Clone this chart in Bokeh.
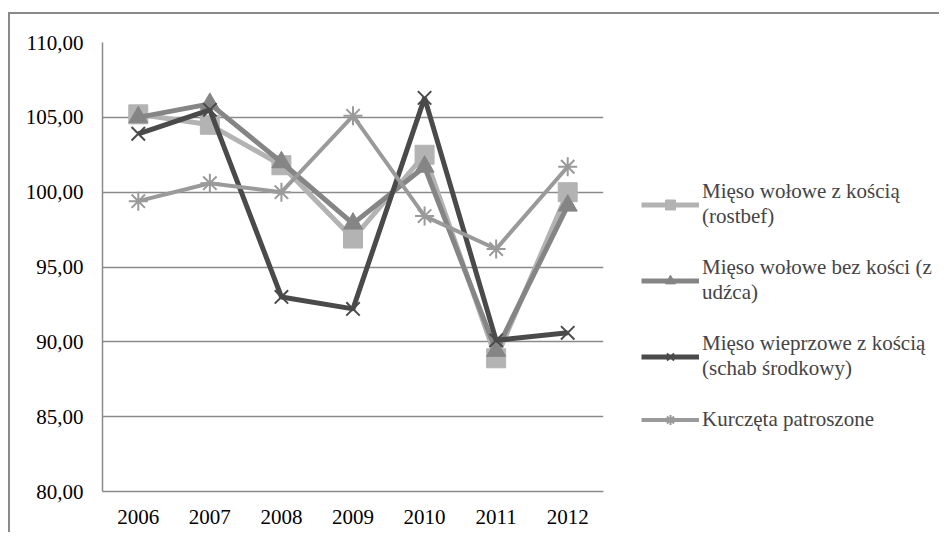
from bokeh.plotting import figure
from bokeh.layouts import row
from bokeh.models import FactorRange, Range1d, Legend, LegendItem, CustomJSTickFormatter, FixedTicker
from bokeh.embed import file_html
from bokeh.resources import INLINE

years = ["2006", "2007", "2008", "2009", "2010", "2011", "2012"]
rostbef = [105.2, 104.5, 101.8, 96.9, 102.5, 88.9, 100.0]
udzca = [105.0, 105.9, 102.0, 97.9, 101.7, 89.4, 99.1]
schab = [103.9, 105.5, 93.0, 92.2, 106.3, 90.1, 90.6]
kurczeta = [99.4, 100.6, 100.0, 105.1, 98.4, 96.2, 101.7]

labels = [
    "Mięso wołowe z kością\n(rostbef)",
    "Mięso wołowe bez kości (z\nudźca)",
    "Mięso wieprzowe z kością\n(schab środkowy)",
    "Kurczęta patroszone",
]

FONT = "Liberation Serif"

p = figure(x_range=FactorRange(*years, range_padding=0), y_range=Range1d(80, 110),
           width=595, height=518, output_backend="svg", toolbar_location=None,
           min_border_left=92, min_border_top=28, min_border_right=2, min_border_bottom=41)

p.outline_line_color = None
p.xgrid.grid_line_color = None
p.ygrid.grid_line_color = "#8a8a8a"
p.ygrid.grid_line_width = 1.5

p.yaxis.ticker = FixedTicker(ticks=[80, 85, 90, 95, 100, 105, 110])
p.yaxis.formatter = CustomJSTickFormatter(code="return tick.toFixed(2).replace('.', ',');")
for ax in (p.xaxis[0], p.yaxis[0]):
    ax.axis_line_color = "#8a8a8a"
    ax.axis_line_width = 1.5
    ax.major_tick_line_color = None
    ax.minor_tick_line_color = None
    ax.major_tick_out = 0
    ax.major_tick_in = 0
    ax.minor_tick_out = 0
    ax.major_label_text_font = FONT
    ax.major_label_text_font_size = "21px"
    ax.major_label_text_color = "#000000"
p.yaxis.major_label_standoff = 19
p.xaxis.major_label_standoff = 18

# legend-only panel (series drawn outside its visible y range)
p2 = figure(x_range=FactorRange(*years), y_range=Range1d(200, 300),
            width=334, height=518, output_backend="svg", toolbar_location=None,
            x_axis_type=None, y_axis_type=None,
            min_border_left=0, min_border_right=0, min_border_top=0, min_border_bottom=0)
p2.outline_line_color = None
p2.xgrid.visible = False
p2.ygrid.visible = False

styles = [
    (rostbef, "#b3b3b3", "square", 19, 5),
    (udzca, "#858585", "triangle", 19, 5),
    (schab, "#4a4a4a", "x", 19, 5),
    (kurczeta, "#9a9a9a", "asterisk", 19, 4),
]

def draw(fig, vals, col, mk, sz, lw):
    ln = fig.line(years, vals, line_color=col, line_width=lw)
    if mk in ("x", "asterisk"):
        sc = fig.scatter(years, vals, marker=mk, size=sz, line_color=col, line_width=2)
    else:
        sc = fig.scatter(years, vals, marker=mk, size=sz, fill_color=col, line_color=col)
    return ln, sc

items = []
for (vals, col, mk, sz, lw), lab in zip(styles, labels):
    draw(p, vals, col, mk, sz, lw)
    ln2, sc2 = draw(p2, vals, col, mk, sz, lw)
    items.append(LegendItem(label=lab, renderers=[ln2, sc2]))

legend = Legend(items=items, location=(36, 59), border_line_color=None,
                background_fill_alpha=0, padding=0, margin=0,
                glyph_width=58, glyph_height=25, label_height=21,
                label_standoff=3, spacing=26,
                label_text_font=FONT, label_text_font_size="21px",
                label_text_line_height=0.87)
p2.add_layout(legend, "center")

layout = row(p, p2, styles={"border-left": "2px solid #8a8a8a", "border-top": "2px solid #8a8a8a",
                            "margin-top": "12px", "margin-left": "8px"})

open("out.html", "w").write(file_html(layout, INLINE))
